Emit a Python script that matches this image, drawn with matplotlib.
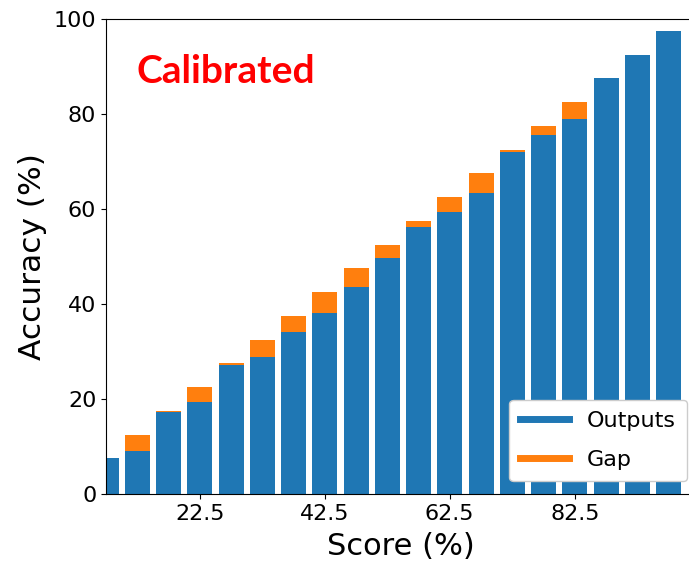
import numpy as np
import matplotlib.pyplot as plt
from matplotlib.lines import Line2D

# bin centres (confidence) and measured accuracy per bin, in %
conf = [7.5, 12.5, 17.5, 22.5, 27.5, 32.5, 37.5, 42.5, 47.5, 52.5,
        57.5, 62.5, 67.5, 72.5, 77.5, 82.5, 87.5, 92.5, 97.5]
acc = [7.5, 9.0, 17.2, 19.3, 27.1, 28.8, 34.2, 38.2, 43.5, 49.7,
       56.3, 59.3, 63.3, 71.9, 75.5, 79.0, 87.5, 92.5, 97.5]
xticks = [22.5, 42.5, 62.5, 82.5]

conf = np.array(conf)
acc = np.array(acc)
gap = conf - acc

fig = plt.figure(figsize=(6.89, 5.66), dpi=100)
ax = fig.add_axes([106/689, 72/566, 590/689, 475/566])

ax.bar(conf, acc, width=4, color='#1f77b4')
ax.bar(conf, gap, bottom=acc, width=4, color='#ff7f0e')

ax.set_xlim(7.5, 101.9)
ax.set_ylim(0, 100)
ax.set_xticks(xticks)
ax.set_yticks([0, 20, 40, 60, 80, 100])
ax.tick_params(labelsize=16)
ax.spines['right'].set_visible(False)
ax.set_xlabel('Score (%)', fontsize=22, labelpad=6)
ax.set_ylabel('Accuracy (%)', fontsize=22.5, labelpad=5)

ax.text(0.051, 0.89, 'Calibrated', transform=ax.transAxes, color='red',
        fontsize=28, fontweight='bold', family='Lato', va='center')

handles = [Line2D([], [], color='#1f77b4', lw=5),
           Line2D([], [], color='#ff7f0e', lw=5)]
fig.legend(handles, ['Outputs', 'Gap'], loc='lower right', fontsize=16,
           handlelength=2.2, labelspacing=0.85, borderpad=0.5, framealpha=1,
           bbox_to_anchor=(687/689, 1 - 481/566), borderaxespad=0)

fig.savefig('out.png', dpi=100)
